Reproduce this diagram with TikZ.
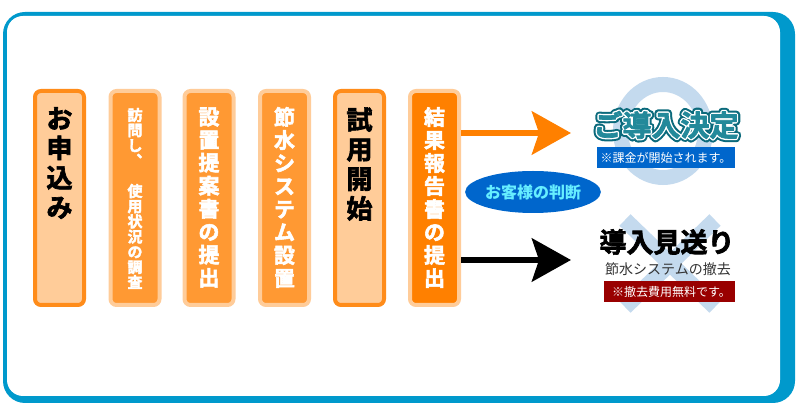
\documentclass[tikz,border=0pt]{standalone}
\usepackage{fontspec}
\newfontfamily\jp{Noto Sans CJK JP}
\newfontfamily\jpheavy[FakeBold=2.5]{Noto Sans CJK JP Bold}
\newfontfamily\jpoutdark[FakeBold=26]{Noto Sans CJK JP Bold}
\newfontfamily\jpoutwhite[FakeBold=12]{Noto Sans CJK JP Bold}
\usetikzlibrary{calc,arrows.meta,shapes.geometric}
\definecolor{frameblue}{HTML}{0099CC}
\definecolor{peach}{HTML}{FFCC99}
\definecolor{edgeorange}{HTML}{FF8C1A}
\definecolor{midorange}{HTML}{FF9933}
\definecolor{deeporange}{HTML}{FF8000}
\definecolor{paleblue}{HTML}{C4DAEE}
\definecolor{judgeblue}{HTML}{0066CC}
\definecolor{judgetext}{HTML}{66EEFF}
\definecolor{darkteal}{HTML}{0B6A7C}
\definecolor{midteal}{HTML}{23899A}
\definecolor{darkred}{HTML}{990000}
\definecolor{greytext}{HTML}{333333}
\tikzset{
  boxA/.style={draw=edgeorange, fill=peach, line width=4pt, rounded corners=6pt,
    minimum width=49pt, minimum height=214pt, inner sep=0pt},
  boxB/.style={draw=peach, fill=midorange, line width=4pt, rounded corners=6pt,
    minimum width=49pt, minimum height=214pt, inner sep=0pt},
  boxC/.style={draw=peach, fill=deeporange, line width=4pt, rounded corners=6pt,
    minimum width=49pt, minimum height=214pt, inner sep=0pt},
  vt/.style={align=center, inner sep=0pt},
  bigv/.style={vt, font=\jpheavy\fontsize{26}{29.6}\selectfont},
  midv/.style={vt, font=\jpheavy\fontsize{21}{23}\selectfont},
  smallv/.style={vt, font=\jpheavy\fontsize{15}{15.2}\selectfont},
  flowline/.style={line width=6.5pt},
  bigtip/.style={-{Stealth[length=39pt, width=43pt, inset=7pt]}},
  title/.style={inner sep=0pt, line join=round, line cap=round},
  label/.style={inner sep=0pt, text=white, minimum height=21pt,
    font=\jp\fontsize{12}{12}\selectfont},
}
\begin{document}
\begin{tikzpicture}[x=1pt,y=-1pt]
\useasboundingbox (0,0) rectangle (812,411);
% frame
\fill[frameblue, rounded corners=22pt] (3,12) rectangle (795,403);
\fill[white, rounded corners=16pt] (7,16) rectangle (780,396);

% step boxes
\node[boxA] (b1) at (59.5,198) {};
\node[boxB] (b2) at (135,198) {};
\node[boxB] (b3) at (209,198) {};
\node[boxB] (b4) at (284.5,198) {};
\node[boxA] (b5) at (359.5,198) {};
\node[boxC] (b6) at (434.5,198) {};

\node[bigv, text=black] (t1) at (59.5,163) {お\\申\\込\\み};
\node[smallv, text=white] (t2) at (135,198.5) {訪\\問\\し\\︑\\ \\使\\用\\状\\況\\の\\調\\査};
\node[midv, text=white] (t3) at (209,197.5) {設\\置\\提\\案\\書\\の\\提\\出};
\node[midv, text=white] (t4) at (284.5,197.5) {節\\水\\シ\\ス\\テ\\ム\\設\\置};
\node[bigv, text=black] (t5) at (359.5,164) {試\\用\\開\\始};
\node[midv, text=white] (t6) at (434.5,197.5) {結\\果\\報\\告\\書\\の\\提\\出};

% pale circle and cross
\draw[paleblue, line width=15pt] (663,131) ellipse [x radius=42.5pt, y radius=46.5pt];
\draw[paleblue, line width=16pt] (625,220) -- (715,307);
\draw[paleblue, line width=16pt] (715,220) -- (625,307);

% arrows
\coordinate (yesend) at (571,133);
\coordinate (noend) at (571,260);
\draw[deeporange, flowline, bigtip] (b6.east |- yesend) -- (yesend);
\draw[black, flowline, bigtip] (b6.east |- noend) -- (noend);

% judgement ellipse
\node[ellipse, fill=judgeblue, minimum width=120pt, minimum height=42pt, inner sep=0pt,
  text=judgetext, font=\jp\bfseries\fontsize{16}{16}\selectfont] (judge) at (533,192) {お客様の判断};

% decision: yes (outlined title)
\coordinate (gd) at (666,125);
\node[title, text=darkteal, font=\jpoutdark\fontsize{29}{29}\selectfont] (yesout) at (gd) {ご導入決定};
\node[title, text=white, font=\jpoutwhite\fontsize{29}{29}\selectfont] (yesmid) at (gd) {ご導入決定};
\node[title, text=midteal, font=\jpheavy\fontsize{29}{29}\selectfont] (yes) at (gd) {ご導入決定};
\node[label, fill=judgeblue, minimum width=138pt] (charge) at (666,157.5) {※課金が開始されます。};

% decision: no
\node[inner sep=0pt, font=\jpheavy\fontsize{27}{27}\selectfont] (no) at (667,242) {導入見送り};
\node[inner sep=0pt, text=greytext, font=\jp\fontsize{14}{14}\selectfont] (removal) at (668,269) {節水システムの撤去};
\node[label, fill=darkred, minimum width=131pt] (free) at (669.5,291.5) {\hspace{4pt}※撤去費用無料です。};
\end{tikzpicture}
\end{document}
